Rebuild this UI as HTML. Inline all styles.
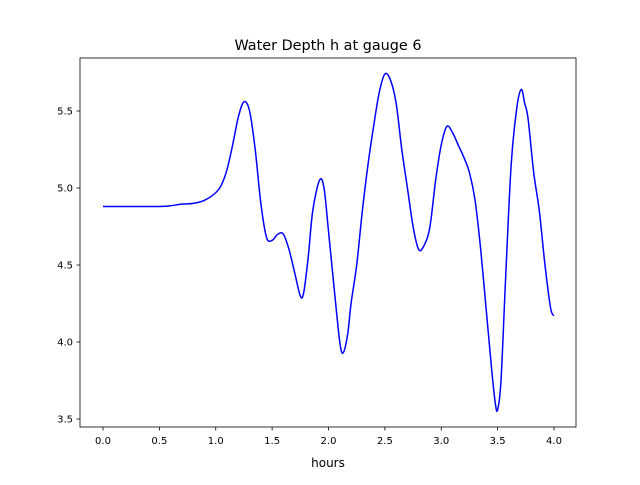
<!DOCTYPE html>
<html><head><meta charset="utf-8"><style>
body{margin:0;background:#fff}
svg text{font-family:"DejaVu Sans","Liberation Sans",sans-serif;fill:#000}
</style></head><body>
<svg id="chart" width="640" height="480" xmlns="http://www.w3.org/2000/svg">
<rect width="640" height="480" fill="#fff"/>
<text x="328" y="50" font-size="14.4" text-anchor="middle">Water Depth h at gauge 6</text>
<g id="axes"></g>
<text x="328" y="467" font-size="12" text-anchor="middle">hours</text>
</svg>
<script>
const times=[0,0.5,0.6,0.7,0.8,0.9,1.0,1.05,1.1,1.15,1.2,1.25,1.3,1.35,1.4,1.45,1.5,1.55,1.6,1.65,1.7,1.75,1.78,1.82,1.86,1.92,1.96,2.0,2.05,2.1,2.13,2.17,2.2,2.25,2.3,2.35,2.4,2.45,2.5,2.55,2.6,2.65,2.7,2.75,2.8,2.85,2.9,2.95,3.0,3.05,3.1,3.15,3.2,3.25,3.3,3.35,3.4,3.45,3.48,3.5,3.53,3.57,3.62,3.67,3.71,3.74,3.77,3.82,3.87,3.92,3.97,4.0];
const depths=[4.88,4.88,4.885,4.895,4.9,4.92,4.97,5.02,5.12,5.28,5.46,5.56,5.5,5.25,4.9,4.68,4.66,4.7,4.7,4.6,4.45,4.3,4.32,4.55,4.85,5.05,5.0,4.72,4.35,4.0,3.93,4.05,4.25,4.5,4.85,5.15,5.4,5.62,5.74,5.7,5.55,5.25,5.0,4.75,4.6,4.63,4.75,5.05,5.28,5.4,5.36,5.28,5.2,5.1,4.92,4.6,4.2,3.8,3.6,3.56,3.75,4.4,5.15,5.52,5.64,5.55,5.45,5.1,4.85,4.5,4.22,4.17];
const xTicks=[0,0.5,1,1.5,2,2.5,3,3.5,4];
const yTicks=[3.5,4.0,4.5,5.0,5.5];
const L=80,R=576,T=58,B=427;
const xs=t=>103+t*112.75;
const ys=v=>188-(v-5)*154;
const NS="http://www.w3.org/2000/svg";
const g=document.getElementById('axes');
function mk(tag,attrs){const e=document.createElementNS(NS,tag);for(const k in attrs)e.setAttribute(k,attrs[k]);g.appendChild(e);return e;}
const P=times.map((t,i)=>[xs(t),ys(depths[i])]);
let d='M'+P[0][0]+','+P[0][1];
for(let i=0;i<P.length-1;i++){
 const p0=P[Math.max(0,i-1)],p1=P[i],p2=P[i+1],p3=P[Math.min(P.length-1,i+2)];
 const k=1/6;
 const c1=[p1[0]+(p2[0]-p0[0])*k,p1[1]+(p2[1]-p0[1])*k];
 const c2=[p2[0]-(p3[0]-p1[0])*k,p2[1]-(p3[1]-p1[1])*k];
 d+=' C'+c1[0]+','+c1[1]+' '+c2[0]+','+c2[1]+' '+p2[0]+','+p2[1];
}
const line=mk('path',{d:d,fill:'none',stroke:'#0000ff','stroke-width':1.5,'stroke-linejoin':'round'});


const fr=mk('rect',{x:L,y:T,width:R-L,height:B-T,fill:'none',stroke:'#000','stroke-width':0.8});


xTicks.forEach(t=>{
 const x=xs(t);
 mk('line',{x1:x,x2:x,y1:B,y2:B+3.5,stroke:'#000','stroke-width':0.8});
 const tx=mk('text',{x:x,y:B+17,'font-size':10,'text-anchor':'middle'});tx.textContent=t.toFixed(1);
 
 
});
yTicks.forEach(v=>{
 const y=ys(v);
 mk('line',{x1:L-3.5,x2:L,y1:y,y2:y,stroke:'#000','stroke-width':0.8});
 const tx=mk('text',{x:L-7,y:y+3.5,'font-size':10,'text-anchor':'end'});tx.textContent=v.toFixed(1);
 
 
});
</script>
</body></html>
